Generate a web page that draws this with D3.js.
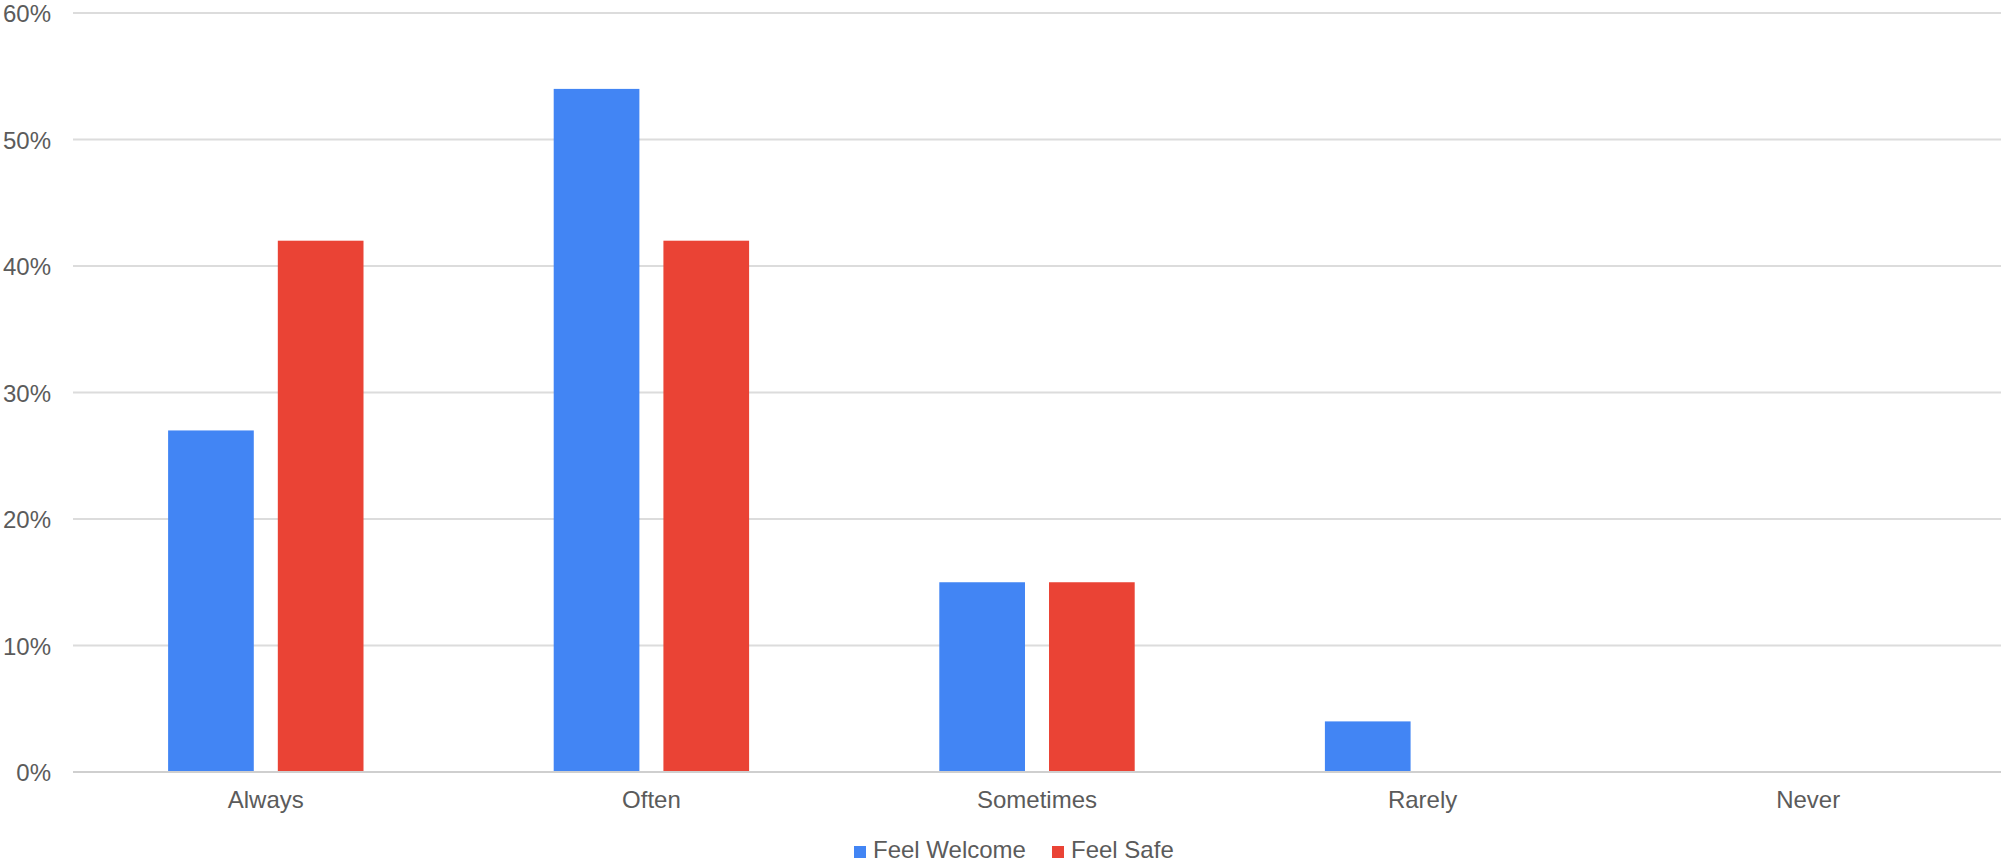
<!DOCTYPE html>
<html lang="en">
<head>
  <meta charset="UTF-8" />
  <title>Feel Welcome / Feel Safe</title>
  <style>
    body { margin: 0; background: #fff; }
    text { font-family: "Liberation Sans", Arial, sans-serif; fill: #5b5b5b; }
  </style>
  <script src="https://d3js.org/d3.v7.min.js"></script>
</head>
<body>
  <script>
    // data
    const categories = ["Always", "Often", "Sometimes", "Rarely", "Never"];
    const seriesNames = ["Feel Welcome", "Feel Safe"];
    const feelWelcome = [27, 54, 15, 4, 0];
    const feelSafe = [42, 42, 15, 0, 0];
    const yTicks = [0, 10, 20, 30, 40, 50, 60];
    const colors = ["#4285f4", "#ea4335"];

    const W = 2005, H = 865;
    const margin = { top: 13, right: 4, bottom: 93, left: 73 };

    const svg = d3.select("body").append("svg")
      .attr("width", W)
      .attr("height", H);

    const x = d3.scaleBand()
      .domain(categories)
      .range([margin.left, W - margin.right])
      .padding(0);

    const y = d3.scaleLinear()
      .domain([0, 60])
      .range([H - margin.bottom, margin.top]);

    const groupW = 195.4;
    const xs = d3.scaleBand()
      .domain(seriesNames)
      .range([-groupW / 2, groupW / 2])
      .paddingInner(0.219);

    // gridlines
    svg.append("g").selectAll("line")
      .data(yTicks)
      .join("line")
      .attr("x1", margin.left)
      .attr("x2", W - margin.right)
      .attr("y1", d => y(d))
      .attr("y2", d => y(d))
      .attr("stroke", d => d === 0 ? "#cfcfcf" : "#dcdcdc")
      .attr("stroke-width", 2);

    // y labels
    svg.append("g").selectAll("text")
      .data(yTicks)
      .join("text")
      .attr("x", 51)
      .attr("y", d => y(d) + 9)
      .attr("text-anchor", "end")
      .style("font-size", "24px")
      .text(d => d + "%");

    const rows = categories.map((c, i) => ({
      cat: c,
      vals: [feelWelcome[i], feelSafe[i]]
    }));

    const groups = svg.append("g").selectAll("g")
      .data(rows)
      .join("g")
      .attr("transform", d => "translate(" + (x(d.cat) + x.bandwidth() / 2) + ",0)");

    groups.selectAll("rect")
      .data(d => d.vals.map((v, j) => ({ name: seriesNames[j], v: v, j: j })).filter(e => e.v > 0))
      .join("rect")
      .attr("x", d => xs(d.name))
      .attr("width", xs.bandwidth())
      .attr("y", d => y(d.v))
      .attr("height", d => y(0) - y(d.v) - 1)
      .attr("fill", d => colors[d.j]);

    // x labels
    svg.append("g").selectAll("text")
      .data(categories)
      .join("text")
      .attr("x", d => x(d) + x.bandwidth() / 2)
      .attr("y", 808)
      .attr("text-anchor", "middle")
      .style("font-size", "24px")
      .text(d => d);

    // legend
    const legendX = [854, 1052];
    const legend = svg.append("g").selectAll("g")
      .data(seriesNames)
      .join("g")
      .attr("transform", (d, i) => "translate(" + legendX[i] + ",846)");
    legend.append("rect")
      .attr("width", 12)
      .attr("height", 12)
      .attr("fill", (d, i) => colors[i]);
    legend.append("text")
      .attr("x", 19)
      .attr("y", 12)
      .style("font-size", "24px")
      .text(d => d);
  </script>
</body>
</html>
